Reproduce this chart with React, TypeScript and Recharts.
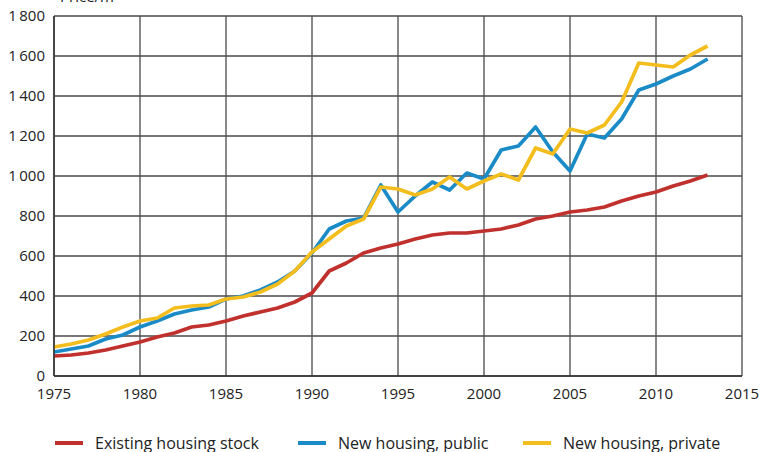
import React from "react";
import { LineChart, Line, XAxis, YAxis, CartesianGrid } from "recharts";

const years = [1975,1976,1977,1978,1979,1980,1981,1982,1983,1984,1985,1986,1987,1988,1989,1990,1991,1992,1993,1994,1995,1996,1997,1998,1999,2000,2001,2002,2003,2004,2005,2006,2007,2008,2009,2010,2011,2012,2013];
const existingStock = [100,105,115,130,150,170,195,215,245,255,275,300,320,340,370,415,525,565,615,640,660,685,705,715,715,725,735,755,785,800,820,830,845,875,900,920,950,975,1005];
const newPublic = [120,135,150,185,205,245,275,310,330,345,385,400,430,470,525,615,735,775,790,955,820,900,970,930,1015,985,1130,1150,1245,1120,1025,1210,1190,1285,1430,1460,1500,1535,1585];
const newPrivate = [145,160,180,210,245,275,290,340,350,355,385,395,420,460,525,620,685,750,785,945,935,905,935,995,935,975,1010,980,1140,1110,1235,1215,1255,1370,1565,1555,1545,1605,1650];
const xTicks = [1975,1980,1985,1990,1995,2000,2005,2010,2015];
const yTicks = [0,200,400,600,800,1000,1200,1400,1600,1800];
const seriesNames = ["Existing housing stock", "New housing, public", "New housing, private"];
const seriesColors = ["#c0312e", "#1a8bc7", "#f4bd1e"];

const data = years.map((y, i) => ({
  year: y,
  existing: existingStock[i],
  pub: newPublic[i],
  priv: newPrivate[i],
}));

const FONT = "'Open Sans', sans-serif";

const fmt = (v: number) => (v >= 1000 ? `${Math.floor(v / 1000)}\u2009${String(v % 1000).padStart(3, "0")}` : String(v));

const LegendBlock = () => {
  const xs = [55, 298, 523];
  return (
    <div style={{ position: "absolute", left: 0, top: 432, width: 761, height: 20 }}>
      {seriesNames.map((n, i) => (
        <div key={n} style={{ position: "absolute", left: xs[i], top: 0, display: "flex", alignItems: "center", fontFamily: FONT, fontSize: 16, lineHeight: "22px", color: "#222", whiteSpace: "nowrap" }}>
          <span style={{ display: "inline-block", width: 28, height: 4, background: seriesColors[i], marginRight: 12 }} />
          <span>{n}</span>
        </div>
      ))}
    </div>
  );
};

export default function App() {
  return (
    <div style={{ position: "absolute", left: 0, top: 0, width: 761, height: 452, background: "#fff", overflow: "hidden" }}>
      <LineChart width={761} height={452} data={data} margin={{ top: 16, right: 19, bottom: 40, left: 0 }}>
        <text x={60} y={2} fontFamily={FONT} fontSize={15} fill="#222">Price/m²</text>
        <CartesianGrid stroke="#4a4a4a" strokeWidth={1.3} horizontalValues={yTicks} verticalValues={xTicks} />
        <XAxis dataKey="year" type="number" domain={[1975, 2015]} ticks={xTicks} interval={0}
          tickLine={false} tickSize={0} tickMargin={12} axisLine={{ stroke: "#333", strokeWidth: 1.5 }}
          tick={{ fontFamily: FONT, fontSize: 15, fill: "#222" }} height={36} />
        <YAxis type="number" domain={[0, 1800]} ticks={yTicks} interval={0} width={54}
          tickLine={false} tickSize={0} tickMargin={9} axisLine={{ stroke: "#333", strokeWidth: 1.5 }}
          tick={{ fontFamily: FONT, fontSize: 15, fill: "#222" }} tickFormatter={fmt} />
        <Line dataKey="existing" name={seriesNames[0]} stroke={seriesColors[0]} strokeWidth={3.7} dot={false} isAnimationActive={false} strokeLinejoin="round" />
        <Line dataKey="pub" name={seriesNames[1]} stroke={seriesColors[1]} strokeWidth={3.7} dot={false} isAnimationActive={false} strokeLinejoin="round" />
        <Line dataKey="priv" name={seriesNames[2]} stroke={seriesColors[2]} strokeWidth={3.7} dot={false} isAnimationActive={false} strokeLinejoin="round" />
      </LineChart>
      <LegendBlock />
    </div>
  );
}
